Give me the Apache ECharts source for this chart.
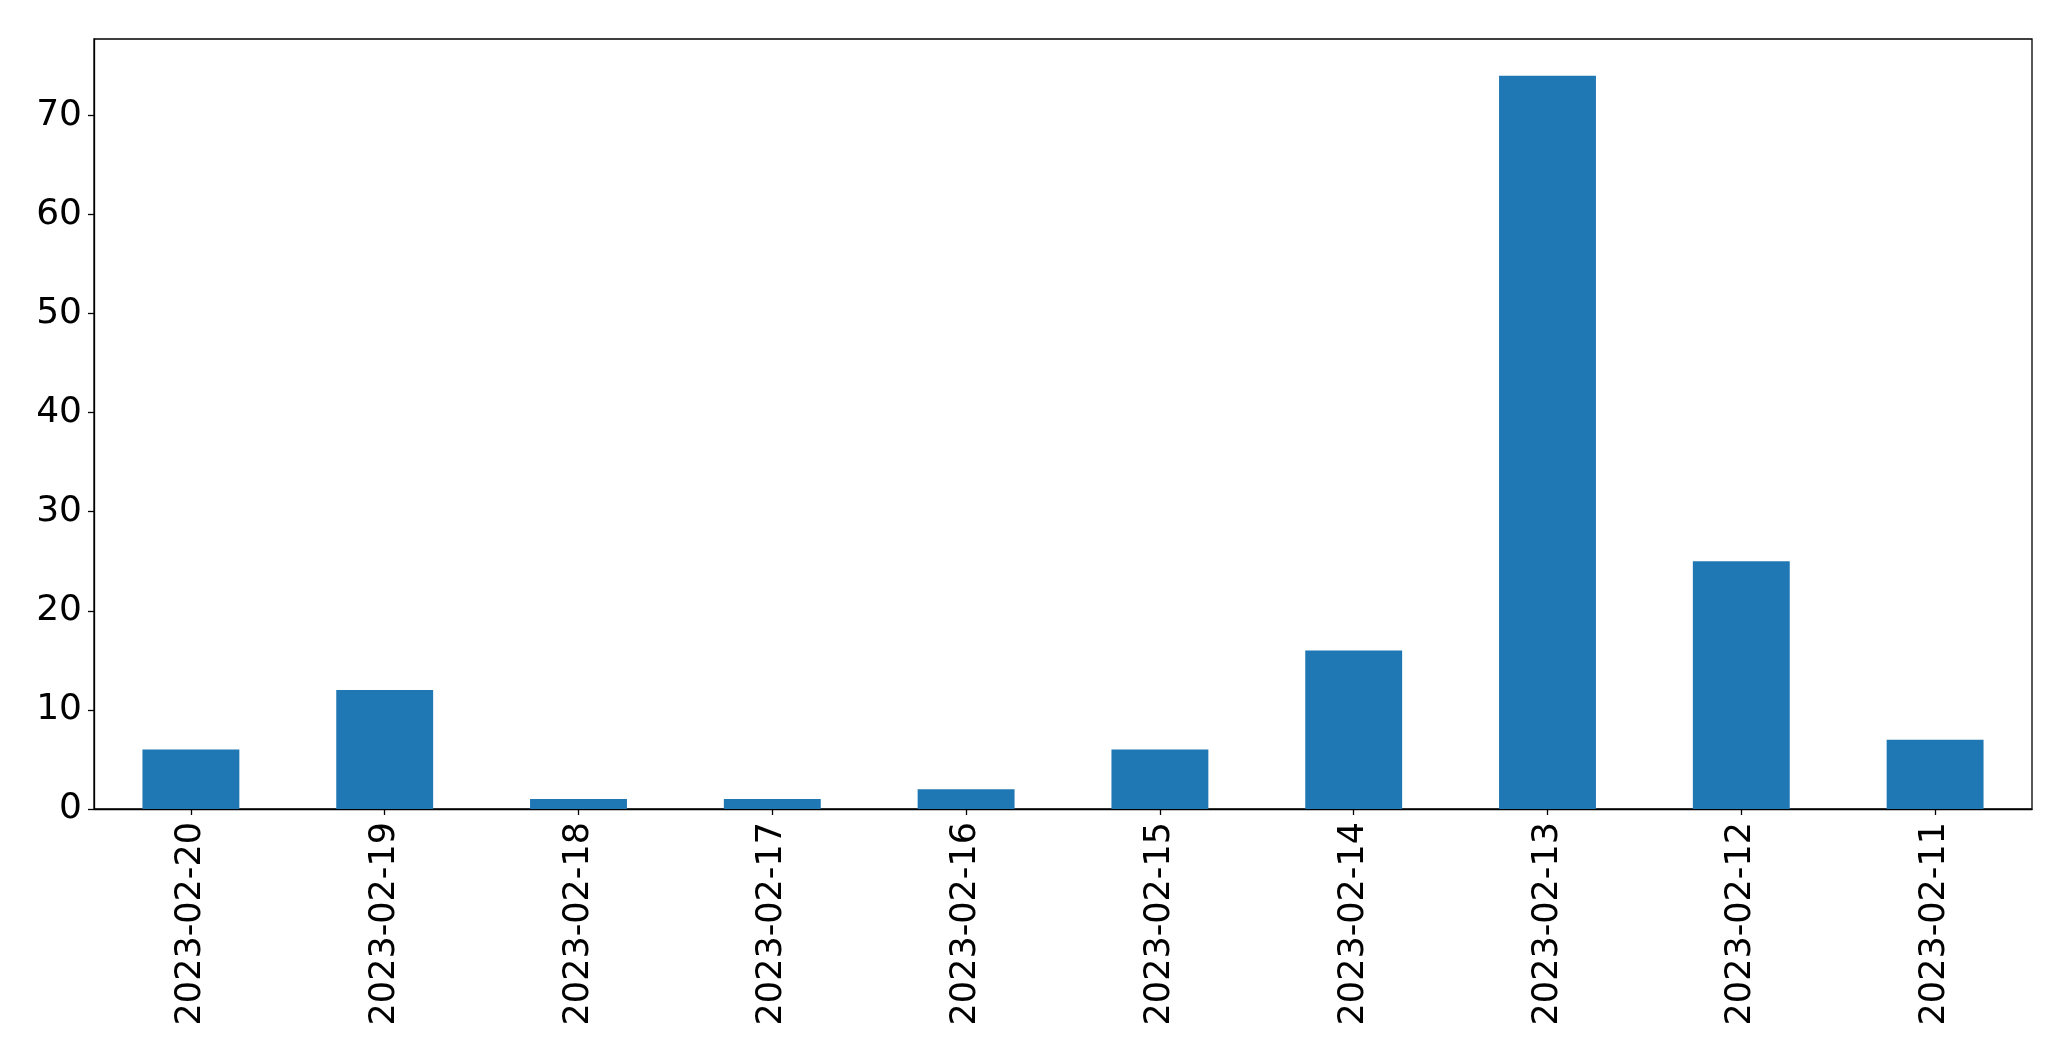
<!DOCTYPE html>
<html>
<head>
<meta charset="utf-8">
<script src="https://cdn.jsdelivr.net/npm/echarts@6/dist/echarts.min.js"></script>
<style>
html,body{margin:0;padding:0;background:#fff;}
#chart{width:2071px;height:1061px;}
</style>
</head>
<body>
<div id="chart"></div>
<script>
const categories = ['2023-02-20','2023-02-19','2023-02-18','2023-02-17','2023-02-16','2023-02-15','2023-02-14','2023-02-13','2023-02-12','2023-02-11'];
const values = [6, 12, 1, 1, 2, 6, 16, 74, 25, 7];
const yTicks = [0, 10, 20, 30, 40, 50, 60, 70];

const chart = echarts.init(document.getElementById('chart'));
const font = 'DejaVu Sans';
chart.setOption({
  animation: false,
  backgroundColor: '#ffffff',
  grid: {
    left: 94, top: 39, right: 39, bottom: 252,
    show: true, borderColor: '#000', borderWidth: 1.3, backgroundColor: 'transparent'
  },
  xAxis: {
    type: 'category',
    data: categories,
    boundaryGap: true,
    axisLine: { show: true, lineStyle: { color: '#000', width: 1.3 } },
    axisTick: { show: true, alignWithLabel: true, length: 6, lineStyle: { color: '#000', width: 1.3 } },
    axisLabel: { rotate: 90, margin: 13, fontSize: 35, fontFamily: font, color: '#000', interval: 0 },
    splitLine: { show: false }
  },
  yAxis: {
    type: 'value',
    min: 0,
    max: 77.7,
    interval: 10,
    axisLine: { show: true, lineStyle: { color: '#000', width: 1.3 } },
    axisTick: { show: true, length: 6, customValues: yTicks, lineStyle: { color: '#000', width: 1.3 } },
    axisLabel: { margin: 12, fontSize: 36, fontFamily: font, color: '#000', customValues: yTicks },
    splitLine: { show: false }
  },
  series: [{
    type: 'bar',
    data: values,
    barWidth: '50%',
    itemStyle: { color: '#1f77b4' }
  }]
});
</script>
</body>
</html>
